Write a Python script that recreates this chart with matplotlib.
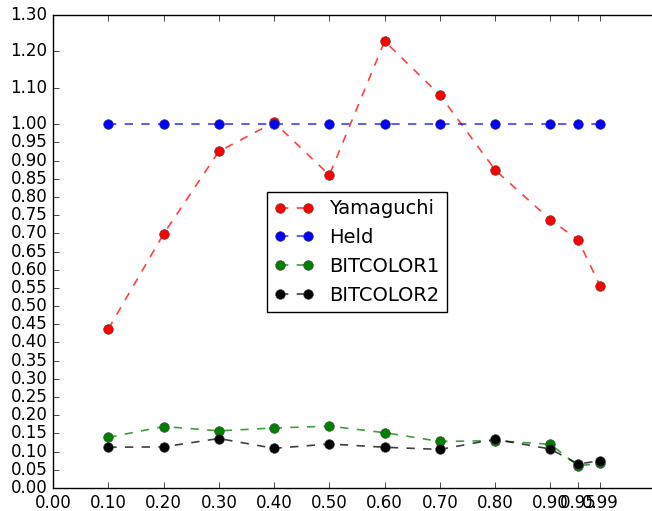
import numpy as np
import matplotlib
matplotlib.use('Agg')
import matplotlib.pyplot as plt

plt.style.use('classic')
plt.rcParams['figure.facecolor'] = 'white'
plt.rcParams['savefig.facecolor'] = 'white'

x = [0.10, 0.20, 0.30, 0.40, 0.50, 0.60, 0.70, 0.80, 0.90, 0.95, 0.99]
yamaguchi = [0.437, 0.698, 0.925, 1.005, 0.860, 1.228, 1.080, 0.874, 0.737, 0.682, 0.555]
held = [1.0, 1.0, 1.0, 1.0, 1.0, 1.0, 1.0, 1.0, 1.0, 1.0, 1.0]
bitcolor1 = [0.139, 0.169, 0.157, 0.165, 0.170, 0.152, 0.128, 0.130, 0.120, 0.061, 0.068]
bitcolor2 = [0.112, 0.113, 0.136, 0.109, 0.121, 0.112, 0.106, 0.134, 0.107, 0.066, 0.075]

xticks = [0.0, 0.1, 0.2, 0.3, 0.4, 0.5, 0.6, 0.7, 0.8, 0.9, 0.95, 0.99]
yticks = list(np.round(np.arange(0, 1.0001, 0.05), 2)) + [1.1, 1.2, 1.3]

fig = plt.figure(figsize=(6.52, 5.11), dpi=100)
W, H = 652.0, 511.0
ax = fig.add_axes([53/W, (H-488)/H, (661-53)/W, (488-15)/H])

series = [(yamaguchi, (1, 0, 0), 'Yamaguchi'),
          (held, (0, 0, 1), 'Held'),
          (bitcolor1, (0, 0.5, 0), 'BITCOLOR1'),
          (bitcolor2, (0, 0, 0), 'BITCOLOR2')]
for ys, c, name in series:
    ax.plot(x, ys, 'o--', color=c + (0.75,), markerfacecolor=c,
            markeredgecolor=(0.25, 0.25, 0.25, 0.8), markersize=7,
            linewidth=1.2, label=name)

ax.set_xlim(0, 1.1)
ax.set_ylim(0, 1.3)
ax.set_xticks(xticks)
ax.set_xticklabels(['%.2f' % v for v in xticks])
ax.set_yticks(yticks)
ax.set_yticklabels(['%.2f' % v for v in yticks])
ax.tick_params(labelsize=12)

ax.legend(loc='center', bbox_to_anchor=((357-53)/608.0, (488-252)/473.0),
          numpoints=2, fontsize=14, fancybox=False)

fig.savefig('out.png', dpi=100)
